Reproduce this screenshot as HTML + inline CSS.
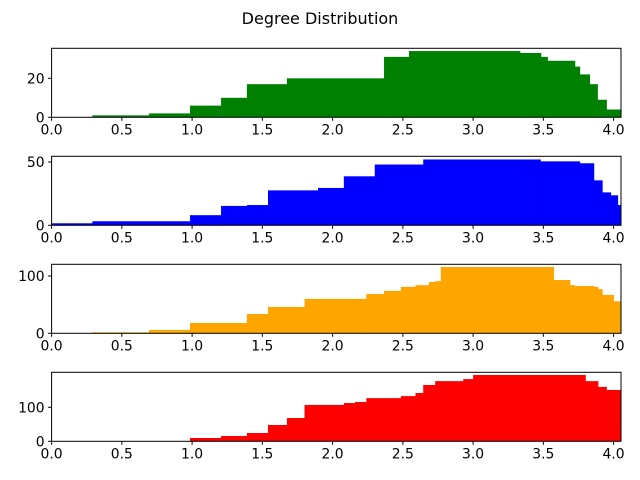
<!DOCTYPE html>
<html><head><meta charset="utf-8"><style>
body{margin:0;background:#fff;}
svg{display:block;font-family:"DejaVu Sans","Liberation Sans",sans-serif;}
</style></head><body>
<svg id="fig" width="640" height="480">
<text x="320" y="24" text-anchor="middle" font-size="16">Degree Distribution</text>
</svg>
<script>
const xTicks = [0.0, 0.5, 1.0, 1.5, 2.0, 2.5, 3.0, 3.5, 4.0];
const xMax = 4.053;
const greenEdges = [0.29,0.693,0.985,1.206,1.39,1.675,2.366,2.544,3.334,3.483,3.53,3.725,3.76,3.83,3.886,3.95,4.06];
const greenValues = [1,2,6,10,17,20,31,34,33,31,29,26,22,17,9,4];
const blueEdges = [0,0.29,0.985,1.206,1.39,1.54,1.896,2.08,2.30,2.645,3.48,3.76,3.86,3.92,3.98,4.03,4.06];
const blueValues = [1.6,3.2,8,15.3,16,27.6,29.5,38.7,48,52,50.5,49,35.5,26,23.7,16];
const orangeEdges = [0.29,0.693,0.985,1.39,1.54,1.80,2.24,2.366,2.486,2.59,2.686,2.73,2.77,3.574,3.69,3.725,3.86,3.89,3.92,4.0,4.06];
const orangeValues = [1.7,5.8,18,33.7,46,60,68.6,74,81,84,89.5,91,115.7,93,84,82.5,81,77,67,56];
const redEdges = [0.985,1.206,1.39,1.54,1.675,1.80,2.08,2.16,2.24,2.486,2.59,2.645,2.73,2.93,3.0,3.80,3.89,3.95,4.06];
const redValues = [9.7,15.6,24.4,48,68.5,107,112.6,115.6,127,133,142,165.6,177,183,195,177,160,151];
const yTicks1 = [0, 20];
const yTicks2 = [0, 50];
const yTicks3 = [0, 100];
const yTicks4 = [0, 100];

const NS = "http://www.w3.org/2000/svg";
const svg = document.getElementById("fig");
const L = 51.6, R = 621, H = 69;
function mk(tag, attrs, parent){const e=document.createElementNS(NS,tag);for(const k in attrs)e.setAttribute(k,attrs[k]);(parent||svg).appendChild(e);return e;}
const xScale = v => L + v * 140.5;

function panel(idx, top, yMax, edges, values, color, yTicks){
  const bottom = top + H;
  const yScale = v => bottom - v / yMax * H;
  const g = mk("g", {});
  
  
  const cid = "clip" + idx;
  const cp = mk("clipPath", {id: cid}, g);
  mk("rect", {x: L, y: top, width: R - L, height: H}, cp);
  const bars = mk("g", {"clip-path": "url(#" + cid + ")"}, g);
  for (let i = 0; i < values.length; i++) {
    const x0 = xScale(edges[i]), x1 = xScale(edges[i+1]);
    const r = mk("rect", {x: x0, y: yScale(values[i]), width: x1 - x0 + 0.3, height: bottom - yScale(values[i]), fill: color}, bars);
    
    
  }
  const frame = mk("rect", {x: L, y: top, width: R - L, height: H, fill: "none", stroke: "#000", "stroke-width": 1}, g);
  
  
  xTicks.forEach(t => {
    const x = xScale(t);
    mk("line", {x1: x, x2: x, y1: bottom, y2: bottom + 3.5, stroke: "#000"}, g);
    const tx = mk("text", {x: x, y: bottom + 17, "text-anchor": "middle", "font-size": 13.9}, g);
    tx.textContent = t.toFixed(1);
    
    
  });
  yTicks.forEach(t => {
    const y = yScale(t);
    mk("line", {x1: L - 3.5, x2: L, y1: y, y2: y, stroke: "#000"}, g);
    const tx = mk("text", {x: L - 7, y: y + 5, "text-anchor": "end", "font-size": 13.9}, g);
    tx.textContent = t;
    
    
  });
}
panel(1, 48.3, 35.4, greenEdges, greenValues, "green", yTicks1);
panel(2, 156.3, 54.5, blueEdges, blueValues, "blue", yTicks2);
panel(3, 264.3, 120.4, orangeEdges, orangeValues, "orange", yTicks3);
panel(4, 372.3, 203, redEdges, redValues, "red", yTicks4);
</script>
</body></html>
